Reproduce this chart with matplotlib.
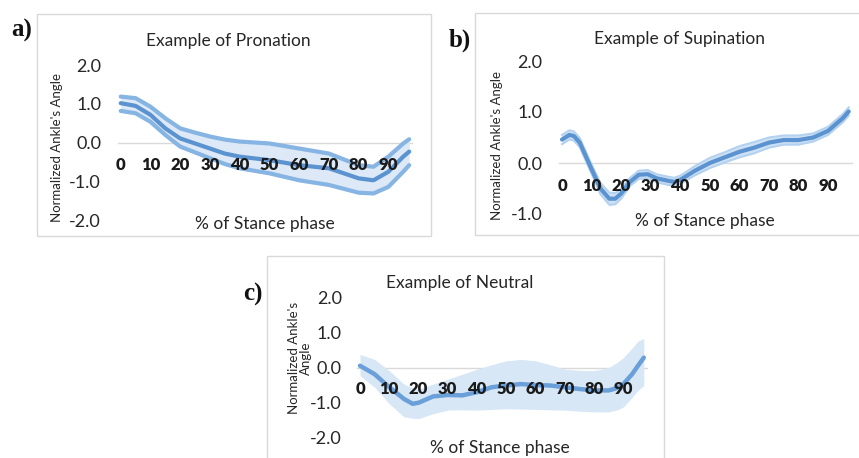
import matplotlib
matplotlib.use("Agg")
import matplotlib.pyplot as plt
from matplotlib.patches import Rectangle

W, H = 859, 458
plt.rcParams['font.family'] = ['Lato', 'DejaVu Sans']

# ---------------- data ----------------
x_a = [0, 5, 10, 15, 20, 25, 30, 35, 40, 50, 60, 70, 80, 85, 90, 95, 97]
mean_a = [1.02, 0.95, 0.72, 0.37, 0.11, -0.02, -0.15, -0.28, -0.36, -0.45, -0.58, -0.66, -0.92, -0.97, -0.75, -0.36, -0.23]
upper_a = [1.19, 1.15, 0.93, 0.63, 0.37, 0.26, 0.16, 0.08, 0.03, -0.02, -0.15, -0.28, -0.58, -0.62, -0.36, -0.02, 0.09]
lower_a = [0.82, 0.76, 0.54, 0.20, -0.10, -0.25, -0.40, -0.55, -0.66, -0.79, -0.97, -1.09, -1.29, -1.31, -1.14, -0.75, -0.58]

x_b = [0, 2.5, 4, 6, 8, 10, 13, 16, 18, 20, 23, 26, 29, 32, 36, 38, 40, 45, 50, 55, 60, 65, 70, 75, 80, 85, 90, 95, 97]
mean_b = [0.46, 0.55, 0.53, 0.40, 0.14, -0.12, -0.50, -0.70, -0.70, -0.60, -0.37, -0.23, -0.22, -0.30, -0.35, -0.37, -0.33, -0.15, 0.00, 0.11, 0.22, 0.30, 0.40, 0.45, 0.45, 0.50, 0.63, 0.88, 1.01]
upper_b = [0.55, 0.64, 0.62, 0.49, 0.23, -0.03, -0.39, -0.58, -0.59, -0.50, -0.29, -0.15, -0.14, -0.22, -0.27, -0.29, -0.25, -0.06, 0.10, 0.21, 0.33, 0.41, 0.50, 0.54, 0.54, 0.58, 0.71, 0.96, 1.09]
lower_b = [0.37, 0.46, 0.44, 0.31, 0.05, -0.21, -0.61, -0.82, -0.81, -0.70, -0.45, -0.31, -0.30, -0.38, -0.43, -0.45, -0.41, -0.24, -0.10, 0.01, 0.11, 0.19, 0.30, 0.36, 0.36, 0.42, 0.55, 0.80, 0.93]

x_c = [0, 5, 10, 15, 18, 20, 25, 30, 35, 40, 45, 50, 55, 60, 65, 70, 75, 80, 85, 88, 90, 93, 95, 97]
mean_c = [0.05, -0.19, -0.56, -0.89, -1.03, -1.00, -0.82, -0.78, -0.79, -0.70, -0.56, -0.51, -0.47, -0.50, -0.51, -0.56, -0.61, -0.65, -0.65, -0.58, -0.47, -0.19, 0.05, 0.28]
upper_c = [0.37, 0.23, -0.09, -0.47, -0.58, -0.61, -0.47, -0.33, -0.19, -0.05, 0.08, 0.19, 0.23, 0.19, 0.08, -0.05, -0.08, -0.09, 0.00, 0.15, 0.28, 0.55, 0.75, 0.82]
lower_c = [-0.23, -0.56, -1.03, -1.40, -1.44, -1.45, -1.31, -1.21, -1.20, -1.21, -1.19, -1.17, -1.18, -1.19, -1.20, -1.21, -1.24, -1.26, -1.26, -1.20, -1.12, -0.85, -0.65, -0.51]

xticks = [0, 10, 20, 30, 40, 50, 60, 70, 80, 90]
xtick_labels = ['0', '10', '20', '30', '40', '50', '60', '70', '80', '90']
yticks_4 = [-2.0, -1.0, 0.0, 1.0, 2.0]
yticks_3 = [-1.0, 0.0, 1.0, 2.0]
titles = ['Example of Pronation', 'Example of Supination', 'Example of Neutral']
panel_labels = ['a)', 'b)', 'c)']

MEAN = '#5b93d0'
EDGE = '#86b4e3'
FILL = '#dde9f7'

fig = plt.figure(figsize=(W / 100, H / 100), dpi=100)


def fx(px):
    return px / W


def fy(py):
    return 1 - py / H


def make_axes(x0, xppu, y0, yppu, xlim, ylim):
    left = x0 + xlim[0] * xppu
    right = x0 + xlim[1] * xppu
    top = y0 - ylim[1] * yppu
    bottom = y0 - ylim[0] * yppu
    ax = fig.add_axes([fx(left), fy(bottom), (right - left) / W, (bottom - top) / H])
    ax.set_xlim(*xlim)
    ax.set_ylim(*ylim)
    ax.patch.set_alpha(0)
    for s in ['top', 'right', 'left']:
        ax.spines[s].set_visible(False)
    ax.spines['bottom'].set_position(('data', 0))
    ax.spines['bottom'].set_color('#d9d9d9')
    ax.spines['bottom'].set_linewidth(1)
    ax.spines['bottom'].set_zorder(0.5)
    ax.xaxis.set_zorder(5)
    ax.yaxis.set_zorder(5)
    return ax


def frame(x0, y0, x1, y1):
    fig.patches.append(Rectangle((fx(x0), fy(y1)), (x1 - x0) / W, (y1 - y0) / H,
                                 transform=fig.transFigure, fill=False,
                                 edgecolor='#d9d9d9', linewidth=1))


def style(ax, yticks, xpad, ypad):
    ax.set_xticks(xticks)
    ax.set_xticklabels(xtick_labels, fontweight='heavy', fontsize=12, color='#1a1a1a')
    ax.set_yticks(yticks)
    ax.set_yticklabels([f'{v:.1f}' for v in yticks], fontsize=13, color='#262626')
    ax.tick_params(axis='x', length=0, pad=xpad)
    ax.tick_params(axis='y', length=0, pad=ypad)


# frames
frame(37, 14, 431, 236)
frame(475, 13, 870, 235)
frame(267, 256, 664, 470)

# ---- panel a ----
ax = make_axes(120.7, 2.974, 142.7, 38.75, (-1, 98), (-2, 2))
ax.fill_between(x_a, lower_a, upper_a, color=FILL, linewidth=0, zorder=1)
ax.plot(x_a, upper_a, color=EDGE, lw=3.0, solid_capstyle='round', solid_joinstyle='round', zorder=2)
ax.plot(x_a, lower_a, color=EDGE, lw=3.0, solid_capstyle='round', solid_joinstyle='round', zorder=2)
ax.plot(x_a, mean_a, color=MEAN, lw=3.0, solid_capstyle='round', solid_joinstyle='round', zorder=3)
style(ax, yticks_4, 10, 12)

# ---- panel b ----
ax = make_axes(562, 2.956, 163, 51, (-1, 98), (-1, 2))
ax.fill_between(x_b, lower_b, upper_b, color='#cfe2f5', linewidth=0, zorder=1)
ax.plot(x_b, upper_b, color='#b3d2f0', lw=1.5, solid_joinstyle='round', zorder=2)
ax.plot(x_b, lower_b, color='#b3d2f0', lw=1.5, solid_joinstyle='round', zorder=2)
ax.plot(x_b, mean_b, color=MEAN, lw=3.0, solid_capstyle='round', solid_joinstyle='round', zorder=3)
style(ax, yticks_3, 11, 12)

# ---- panel c ----
ax = make_axes(360, 2.926, 367.5, 35.25, (-1, 98), (-2, 2))
ax.fill_between(x_c, lower_c, upper_c, color='#d8e7f6', linewidth=0, zorder=1)
ax.plot(x_c, mean_c, color='#6a9fda', lw=3.2, solid_capstyle='round', solid_joinstyle='round', zorder=3)
style(ax, yticks_4, 10, 11)

# ---- texts ----
title_pos = [(228, 41), (680, 39), (460, 283)]
for t, (x, y) in zip(titles, title_pos):
    fig.text(fx(x), fy(y), t, ha='center', va='center', fontsize=12.5, color='#262626')

lab_pos = [(22, 30), (460, 40), (253, 294)]
for t, (x, y) in zip(panel_labels, lab_pos):
    fig.text(fx(x), fy(y), t, ha='center', va='center', fontsize=18,
             family=['Liberation Serif', 'DejaVu Serif'], fontweight='bold', color='#111111')

xl_pos = [(265, 224), (705, 221), (500, 448)]
for (x, y) in xl_pos:
    fig.text(fx(x), fy(y), '% of Stance phase', ha='center', va='center', fontsize=12.5, color='#262626')

fig.text(fx(57), fy(147), "Normalized Ankle's Angle", rotation=90, ha='center', va='center',
         fontsize=9.5, color='#262626')
fig.text(fx(497), fy(146), "Normalized Ankle's Angle", rotation=90, ha='center', va='center',
         fontsize=9.5, color='#262626')
fig.text(fx(300), fy(358), "Normalized Ankle's\nAngle", rotation=90, ha='center', va='center',
         fontsize=9.5, color='#262626', linespacing=1.0, multialignment='center')

fig.savefig('out.png', dpi=100)
